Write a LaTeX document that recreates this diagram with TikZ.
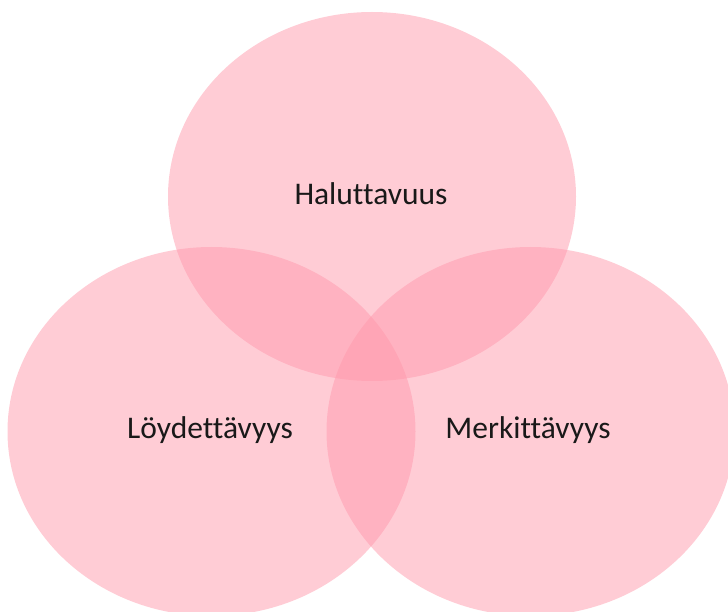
\documentclass[tikz,border=0pt]{standalone}
\usepackage{fontspec}
\setmainfont[Ligatures=NoCommon]{Carlito}
\definecolor{vennpink}{RGB}{255,153,172}
\begin{document}
\begin{tikzpicture}[x=1pt,y=-1pt,
  venn/.style={fill=vennpink,fill opacity=0.5},
  lbl/.style={font=\fontsize{31.5}{38}\selectfont,text=black!90,inner sep=0pt}]
\useasboundingbox (0,0) rectangle (728,612);
\clip (0,0) rectangle (728,612);
\fill[venn] (372,196.5) ellipse [x radius=204, y radius=184.5];
\fill[venn] (211.5,431.5) ellipse [x radius=204, y radius=184.5];
\fill[venn] (530.5,431.5) ellipse [x radius=204, y radius=184.5];
\node[lbl,anchor=base] (h) at (371,205) {Haluttavuus};
\node[lbl,anchor=base] (l) at (210,438) {Löydettävyys};
\node[lbl,anchor=base] (m) at (528,438) {Merkittävyys};
\end{tikzpicture}
\end{document}
